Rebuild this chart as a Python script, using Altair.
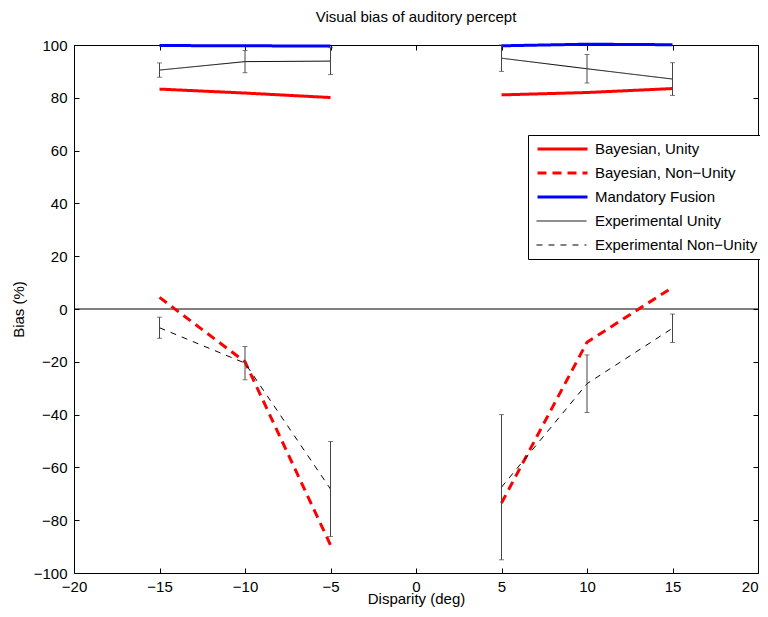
import altair as alt
import pandas as pd

disparity = [-15, -10, -5, 5, 10, 15]
side = ["left", "left", "left", "right", "right", "right"]

bayes_unity = [83.3, 81.8, 80.1, 81.1, 82.0, 83.5]
bayes_nonunity = [4.4, -20.0, -89.4, -73.5, -12.6, 8.2]
mandatory = [99.8, 99.7, 99.6, 99.7, 100.3, 100.1]
exp_unity = [90.5, 93.7, 93.9, 95.0, 91.0, 87.1]
exp_unity_err = [2.7, 4.2, 5.1, 5.0, 5.4, 6.2]
exp_nonunity = [-7.1, -20.5, -68.2, -67.5, -28.3, -7.3]
exp_nonunity_err = [4.0, 6.3, 18.0, 27.5, 10.9, 5.4]

series_names = ["Bayesian, Unity", "Bayesian, Non\u2212Unity", "Mandatory Fusion",
                "Experimental Unity", "Experimental Non\u2212Unity"]
series_colors = ["#ff0000", "#ff0000", "#0000ff", "#000000", "#000000"]
series_dash = [[1, 0], [9, 6], [1, 0], [1, 0], [6, 6]]
thin_names = series_names[3:]
thin_dash = series_dash[3:]

x_ticks = [-20, -15, -10, -5, 0, 5, 10, 15, 20]
y_ticks = [-100, -80, -60, -40, -20, 0, 20, 40, 60, 80, 100]

FONT = "Liberation Sans"
FS = 15


def long_rows(names, series_vals):
    out = []
    for name, vals in zip(names, series_vals):
        for xv, sd, v in zip(disparity, side, vals):
            out.append({"x": xv, "side": sd, "series": name, "value": v})
    return pd.DataFrame(out)


thick_df = long_rows(series_names[:3], [bayes_unity, bayes_nonunity, mandatory])
thin_df = long_rows(thin_names, [exp_unity, exp_nonunity])

erows = []
for vals, errs in [(exp_unity, exp_unity_err), (exp_nonunity, exp_nonunity_err)]:
    for xv, v, e in zip(disparity, vals, errs):
        erows.append({"x": xv, "lo": v - e, "hi": v + e})
edf = pd.DataFrame(erows)

xscale = alt.Scale(domain=[-20, 20], nice=False, zero=False)
yscale = alt.Scale(domain=[-100, 100], nice=False, zero=False)

LX, LY, LPAD = 454, 90, 2
ROW = 24
SYM_OFF = 6

legend_main = alt.Legend(
    title=None, orient="none", legendX=LX, legendY=LY,
    fillColor="white", strokeColor="black", padding=LPAD,
    symbolType="stroke", symbolSize=2500, symbolOffset=SYM_OFF, symbolStrokeWidth=3,
    clipHeight=ROW, rowPadding=0,
    labelFont=FONT, labelFontSize=FS, labelColor="black", labelOffset=6, labelLimit=300,
    zindex=1,
)

legend_thin = alt.Legend(
    title=None, orient="none", legendX=LX + LPAD, legendY=LY + LPAD + 3 * ROW,
    fillColor="white", padding=0,
    symbolType="stroke", symbolSize=2500, symbolOffset=SYM_OFF, symbolStrokeWidth=1,
    symbolStrokeColor="black",
    clipHeight=ROW, rowPadding=0,
    labelFont=FONT, labelFontSize=FS, labelOffset=6, labelExpr="''",
    zindex=2,
)

thick = alt.Chart(thick_df).mark_line(strokeWidth=3).encode(
    x=alt.X("x:Q", scale=xscale,
            axis=alt.Axis(values=x_ticks, title="Disparity (deg)", orient="bottom",
                          offset=-5, tickSize=5, domain=False, grid=False,
                          labelFlush=False,
                          labelAlign={"condition": {"test": "datum.value == 20", "value": "right"},
                                      "value": "center"},
                          labelPadding=6, titlePadding=-3)),
    y=alt.Y("value:Q", scale=yscale,
            axis=alt.Axis(values=y_ticks, title="Bias (%)", orient="left",
                          offset=-5, tickSize=5, domain=False, grid=False,
                          labelPadding=7, titlePadding=7)),
    color=alt.Color("series:N", scale=alt.Scale(domain=series_names, range=series_colors),
                    legend=legend_main),
    strokeDash=alt.StrokeDash("series:N", scale=alt.Scale(domain=series_names, range=series_dash),
                              legend=legend_main),
    detail="side:N",
)

thin = alt.Chart(thin_df).mark_line(strokeWidth=1, color="black").encode(
    x=alt.X("x:Q", scale=xscale, axis=None),
    y=alt.Y("value:Q", scale=yscale, axis=None),
    strokeDash=alt.StrokeDash("series:N", scale=alt.Scale(domain=thin_names, range=thin_dash),
                              legend=legend_thin),
    detail="side:N",
)

frame_axes = alt.Chart(thick_df).mark_point(opacity=0).encode(
    x=alt.X("x:Q", scale=xscale,
            axis=alt.Axis(values=x_ticks, title=None, orient="top", offset=-5, tickSize=5,
                          domain=False, grid=False, labels=False)),
    y=alt.Y("value:Q", scale=yscale,
            axis=alt.Axis(values=y_ticks, title=None, orient="right", offset=-5, tickSize=5,
                          domain=False, grid=False, labels=False)),
)

zero_line = alt.Chart(pd.DataFrame({"y": [0]})).mark_rule(color="black", strokeWidth=1).encode(
    y=alt.Y("y:Q", scale=yscale, axis=None)
)

errbars = alt.Chart(edf).mark_errorbar(ticks=True, size=5, thickness=1, color="#444444").encode(
    x=alt.X("x:Q", scale=xscale, axis=None),
    y=alt.Y("lo:Q", scale=yscale, axis=None, title=None),
    y2="hi:Q",
)

chart = alt.layer(zero_line, thick, thin, errbars, frame_axes).resolve_axis(
    x="independent", y="independent"
).resolve_scale(
    color="independent", strokeDash="independent"
).resolve_legend(
    color="independent", strokeDash="independent"
).properties(
    width=684, height=528,
    title=alt.TitleParams("Visual bias of auditory percept", font=FONT, fontSize=FS,
                          fontWeight="normal", color="black", offset=13),
    autosize=alt.AutoSizeParams(type="none"),
    padding={"left": 66, "top": 37, "right": 2, "bottom": 36},
).configure_view(
    stroke="black", strokeWidth=1
).configure_axis(
    labelFont=FONT, labelFontSize=FS, labelColor="black",
    titleFont=FONT, titleFontSize=FS, titleFontWeight="normal", titleColor="black",
    tickColor="black", tickWidth=1,
)

chart.save("out.html", embed_options={"renderer": "svg", "actions": False})
